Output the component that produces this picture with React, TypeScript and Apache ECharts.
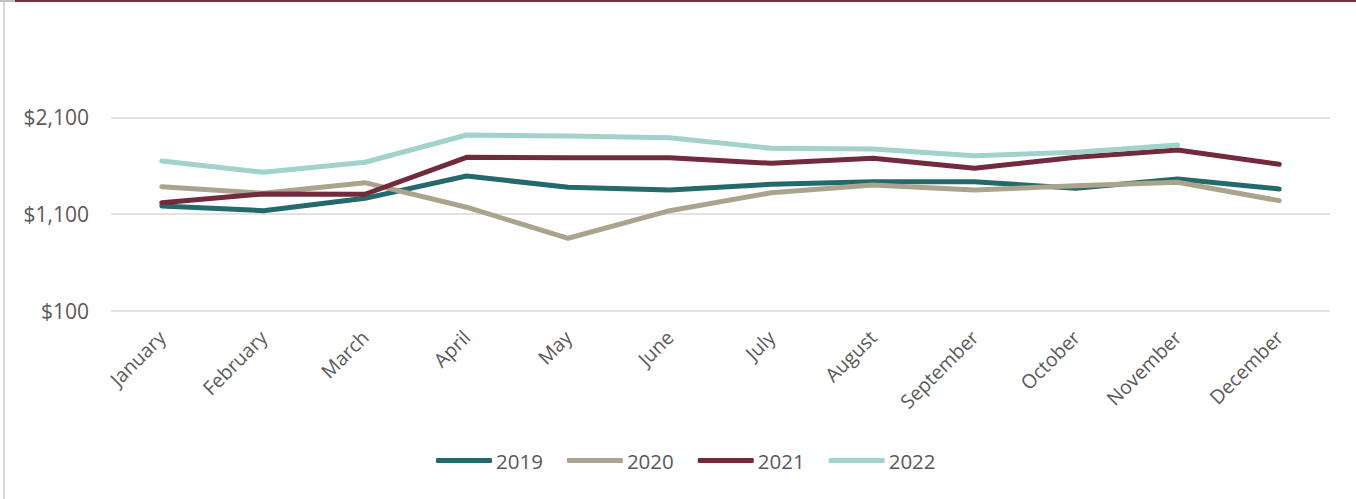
import React, { useEffect, useRef } from "react";
import * as echarts from "echarts";

const months = ["January", "February", "March", "April", "May", "June", "July", "August", "September", "October", "November", "December"];
const yTicks = [100, 1100, 2100];
const s2019 = [1183, 1134, 1262, 1493, 1376, 1348, 1407, 1434, 1434, 1366, 1462, 1359];
const s2020 = [1382, 1314, 1424, 1170, 849, 1134, 1320, 1400, 1348, 1393, 1428, 1238];
const s2021 = [1217, 1307, 1304, 1686, 1682, 1682, 1624, 1676, 1573, 1686, 1762, 1614];
const s2022 = [1648, 1531, 1635, 1917, 1907, 1889, 1779, 1772, 1703, 1738, 1814, null];

const seriesNames = ["2019", "2020", "2021", "2022"];
const seriesData = [s2019, s2020, s2021, s2022];
const colors = ["#24696B", "#ABA48D", "#722A3D", "#A1D3CA"];

const FONT = "'Open Sans', 'Noto Sans', sans-serif";
const TXT = "#595959";

export default function App() {
  const ref = useRef<HTMLDivElement>(null);
  useEffect(() => {
    if (!ref.current) return;
    const chart = echarts.init(ref.current, undefined, { renderer: "svg" });
    chart.setOption({
      animation: false,
      backgroundColor: "#ffffff",
      textStyle: { fontFamily: FONT },
      grid: { left: 111, right: 26, top: 117.3, bottom: 188.3, containLabel: false },
      legend: {
        left: 436,
        top: 450,
        padding: 0,
        icon: "roundRect",
        itemWidth: 56,
        itemHeight: 5,
        itemGap: 24,
        textStyle: { color: TXT, fontSize: 20.5, fontFamily: FONT, padding: [0, 0, 0, -1] },
        data: seriesNames,
      },
      xAxis: {
        type: "category",
        data: months,
        boundaryGap: true,
        axisLine: { show: false },
        axisTick: { show: false },
        axisLabel: { rotate: 45, color: TXT, fontSize: 19.5, fontFamily: FONT, margin: 23, interval: 0 },
      },
      yAxis: {
        type: "value",
        min: yTicks[0],
        max: yTicks[yTicks.length - 1],
        interval: yTicks[1] - yTicks[0],
        axisLine: { show: false },
        axisTick: { show: false },
        splitLine: { lineStyle: { color: "#D9D9D9", width: 1.6 } },
        axisLabel: {
          color: TXT,
          fontSize: 21,
          fontFamily: FONT,
          margin: 22,
          formatter: (v: number) => "$" + v.toLocaleString("en-US"),
        },
      },
      graphic: [
        { type: "rect", shape: { x: 3, y: 2, width: 2, height: 497 }, style: { fill: "#D9D9D9" }, silent: true },
        { type: "rect", shape: { x: 0, y: 0, width: 15, height: 2 }, style: { fill: "#BFBFBF" }, silent: true },
        { type: "rect", shape: { x: 15, y: 0, width: 1341, height: 2 }, style: { fill: "#7A2E40" }, silent: true },
      ],
      series: seriesNames.map((name, i) => ({
        name,
        type: "line",
        data: seriesData[i],
        symbol: "none",
        showSymbol: false,
        connectNulls: false,
        itemStyle: { color: colors[i] },
        lineStyle: { color: colors[i], width: 5, cap: "round", join: "round" },
      })),
    });
    return () => chart.dispose();
  }, []);
  return <div ref={ref} style={{ position: "absolute", left: 0, top: 0, width: 1356, height: 499 }} />;
}
